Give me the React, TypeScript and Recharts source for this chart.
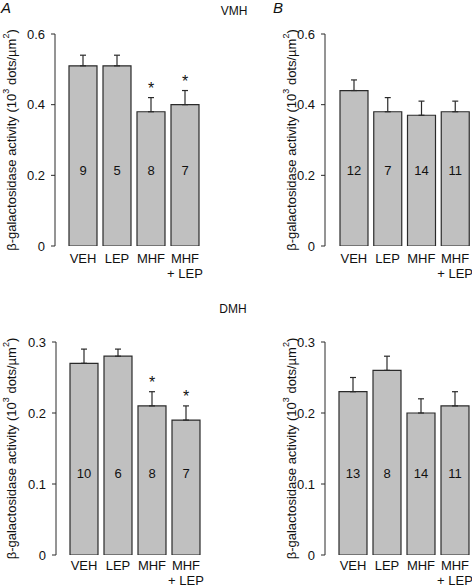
import React from "react";
import { BarChart, Bar, XAxis, YAxis, ErrorBar, LabelList } from "recharts";

const categories = ["VEH", "LEP", "MHF", "MHF\n+ LEP"];

const vmhAValues = [0.51, 0.51, 0.38, 0.4];
const vmhAErrors = [0.03, 0.03, 0.04, 0.04];
const vmhACounts = [9, 5, 8, 7];
const vmhASig = [false, false, true, true];

const vmhBValues = [0.44, 0.38, 0.37, 0.38];
const vmhBErrors = [0.03, 0.04, 0.04, 0.03];
const vmhBCounts = [12, 7, 14, 11];
const vmhBSig = [false, false, false, false];

const dmhAValues = [0.27, 0.28, 0.21, 0.19];
const dmhAErrors = [0.02, 0.01, 0.02, 0.02];
const dmhACounts = [10, 6, 8, 7];
const dmhASig = [false, false, true, true];

const dmhBValues = [0.23, 0.26, 0.2, 0.21];
const dmhBErrors = [0.02, 0.02, 0.02, 0.02];
const dmhBCounts = [13, 8, 14, 11];
const dmhBSig = [false, false, false, false];

const vmhTicks = [0, 0.2, 0.4, 0.6];
const dmhTicks = [0, 0.1, 0.2, 0.3];

const FONT = "'Liberation Sans', Arial, Helvetica, sans-serif";
const INK = "#111";
const AXIS = "#2a2a2a";

function buildRows(values: number[], errors: number[], counts: number[], sig: boolean[]) {
  return categories.map((c, i) => ({
    cat: c,
    v: values[i],
    err: [0, errors[i]],
    n: counts[i],
    sig: sig[i],
    e: errors[i],
  }));
}

const XTick = (dy: number) => (props: any) => {
  const { x, y, payload } = props;
  const lines = String(payload.value).split("\n");
  return (
    <text x={x} y={y + dy} textAnchor="middle" fontSize={13} fill={INK} fontFamily={FONT}>
      {lines.map((l, i) => (
        <tspan key={i} x={x} dy={i === 0 ? 0 : 15}>
          {l}
        </tspan>
      ))}
    </text>
  );
};

const YLabel = (cx: number) => (props: any) => {
  const vb = props.viewBox || {};
  const cy = vb.y + vb.height / 2;
  return (
    <text
      x={cx}
      y={cy}
      transform={`rotate(-90 ${cx} ${cy})`}
      textAnchor="middle"
      dominantBaseline="central"
      fontSize={13}
      fill={INK}
      fontFamily={FONT}
    >
      β-galactosidase activity (10
      <tspan dy={-5} fontSize={9}>3</tspan>
      <tspan dy={5}> dots/µm</tspan>
      <tspan dy={-5} fontSize={9}>2</tspan>
      <tspan dy={5}>)</tspan>
    </text>
  );
};

const StarLabel = (rows: any[]) => (props: any) => {
  const vb = props.viewBox || {};
  const x = props.x ?? vb.x;
  const y = props.y ?? vb.y;
  const width = props.width ?? vb.width;
  const height = props.height ?? vb.height;
  const idx = props.index;
  const row = rows[idx];
  if (!row || !row.sig) return null;
  const errPx = (row.e * height) / row.v;
  const ty = y - errPx - 4;
  return (
    <text x={x + width / 2} y={ty} textAnchor="middle" fontSize={16} fill={INK} fontFamily={FONT}>
      *
    </text>
  );
};

type PanelProps = {
  rows: any[];
  ticks: number[];
  left: number;
  top: number;
  height: number;
  marginTop: number;
  marginRight: number;
  yAxisWidth: number;
  xAxisHeight: number;
  padLeft: number;
  labelX: number;
  tickDy: number;
  countOffset: number;
};

function Panel(p: PanelProps) {
  const max = p.ticks[p.ticks.length - 1];
  return (
    <div style={{ position: "absolute", left: p.left, top: p.top }}>
      <BarChart
        width={236}
        height={p.height}
        data={p.rows}
        margin={{ top: p.marginTop, right: p.marginRight, bottom: 0, left: 0 }}
        barSize={28}
      >
        <XAxis
          dataKey="cat"
          axisLine={false}
          tickLine={false}
          tickSize={0}
          tickMargin={0}
          height={p.xAxisHeight}
          padding={{ left: p.padLeft, right: 0 }}
          interval={0}
          tick={XTick(p.tickDy)}
        />
        <YAxis
          width={p.yAxisWidth}
          domain={[0, max]}
          ticks={p.ticks}
          allowDataOverflow
          axisLine={{ stroke: AXIS, strokeWidth: 1 }}
          tickLine={{ stroke: AXIS, strokeWidth: 1 }}
          tickSize={4}
          tickMargin={6}
          tick={{ fill: INK, fontSize: 13, fontFamily: FONT }}
          tickFormatter={(v: number) => (v === 0 ? "0" : v.toFixed(1))}
          label={{ content: YLabel(p.labelX) } as any}
        />
        <Bar dataKey="v" fill="#c0c0c0" stroke={AXIS} strokeWidth={1.2} isAnimationActive={false}>
          <ErrorBar dataKey="err" width={3} stroke={AXIS} strokeWidth={1.2} direction="y" />
          <LabelList
            dataKey="n"
            position="insideBottom"
            offset={p.countOffset}
            fill={INK}
            fontSize={13}
            fontFamily={FONT}
          />
          <LabelList dataKey="v" content={StarLabel(p.rows) as any} />
        </Bar>
      </BarChart>
    </div>
  );
}

export default function App() {
  const vmhA = buildRows(vmhAValues, vmhAErrors, vmhACounts, vmhASig);
  const vmhB = buildRows(vmhBValues, vmhBErrors, vmhBCounts, vmhBSig);
  const dmhA = buildRows(dmhAValues, dmhAErrors, dmhACounts, dmhASig);
  const dmhB = buildRows(dmhBValues, dmhBErrors, dmhBCounts, dmhBSig);
  return (
    <div
      style={{
        position: "absolute",
        left: 0,
        top: 0,
        width: 472,
        height: 587,
        overflow: "hidden",
        background: "#fff",
        fontFamily: FONT,
      }}
    >
      <Panel rows={vmhA} ticks={vmhTicks} left={0} top={0} height={290} marginTop={34} marginRight={34}
        yAxisWidth={55} xAxisHeight={44} padLeft={11} labelX={11} tickDy={17} countOffset={71} />
      <Panel rows={vmhB} ticks={vmhTicks} left={236} top={0} height={290} marginTop={34} marginRight={0}
        yAxisWidth={89} xAxisHeight={44} padLeft={12} labelX={55} tickDy={17} countOffset={71} />
      <Panel rows={dmhA} ticks={dmhTicks} left={0} top={290} height={297} marginTop={52} marginRight={33}
        yAxisWidth={56} xAxisHeight={32} padLeft={11} labelX={11} tickDy={15} countOffset={77} />
      <Panel rows={dmhB} ticks={dmhTicks} left={236} top={290} height={297} marginTop={52} marginRight={0}
        yAxisWidth={89} xAxisHeight={32} padLeft={11} labelX={55} tickDy={15} countOffset={77} />
      <svg width={472} height={587} style={{ position: "absolute", left: 0, top: 0, pointerEvents: "none" }}>
        <text x={1} y={12.5} fontSize={15} fontStyle="italic" fill={INK} fontFamily={FONT}>A</text>
        <text x={273} y={12.5} fontSize={15} fontStyle="italic" fill={INK} fontFamily={FONT}>B</text>
        <text x={234} y={15} fontSize={12} textAnchor="middle" fill={INK} fontFamily={FONT}>VMH</text>
        <text x={233} y={313} fontSize={12} textAnchor="middle" fill={INK} fontFamily={FONT}>DMH</text>
      </svg>
    </div>
  );
}
